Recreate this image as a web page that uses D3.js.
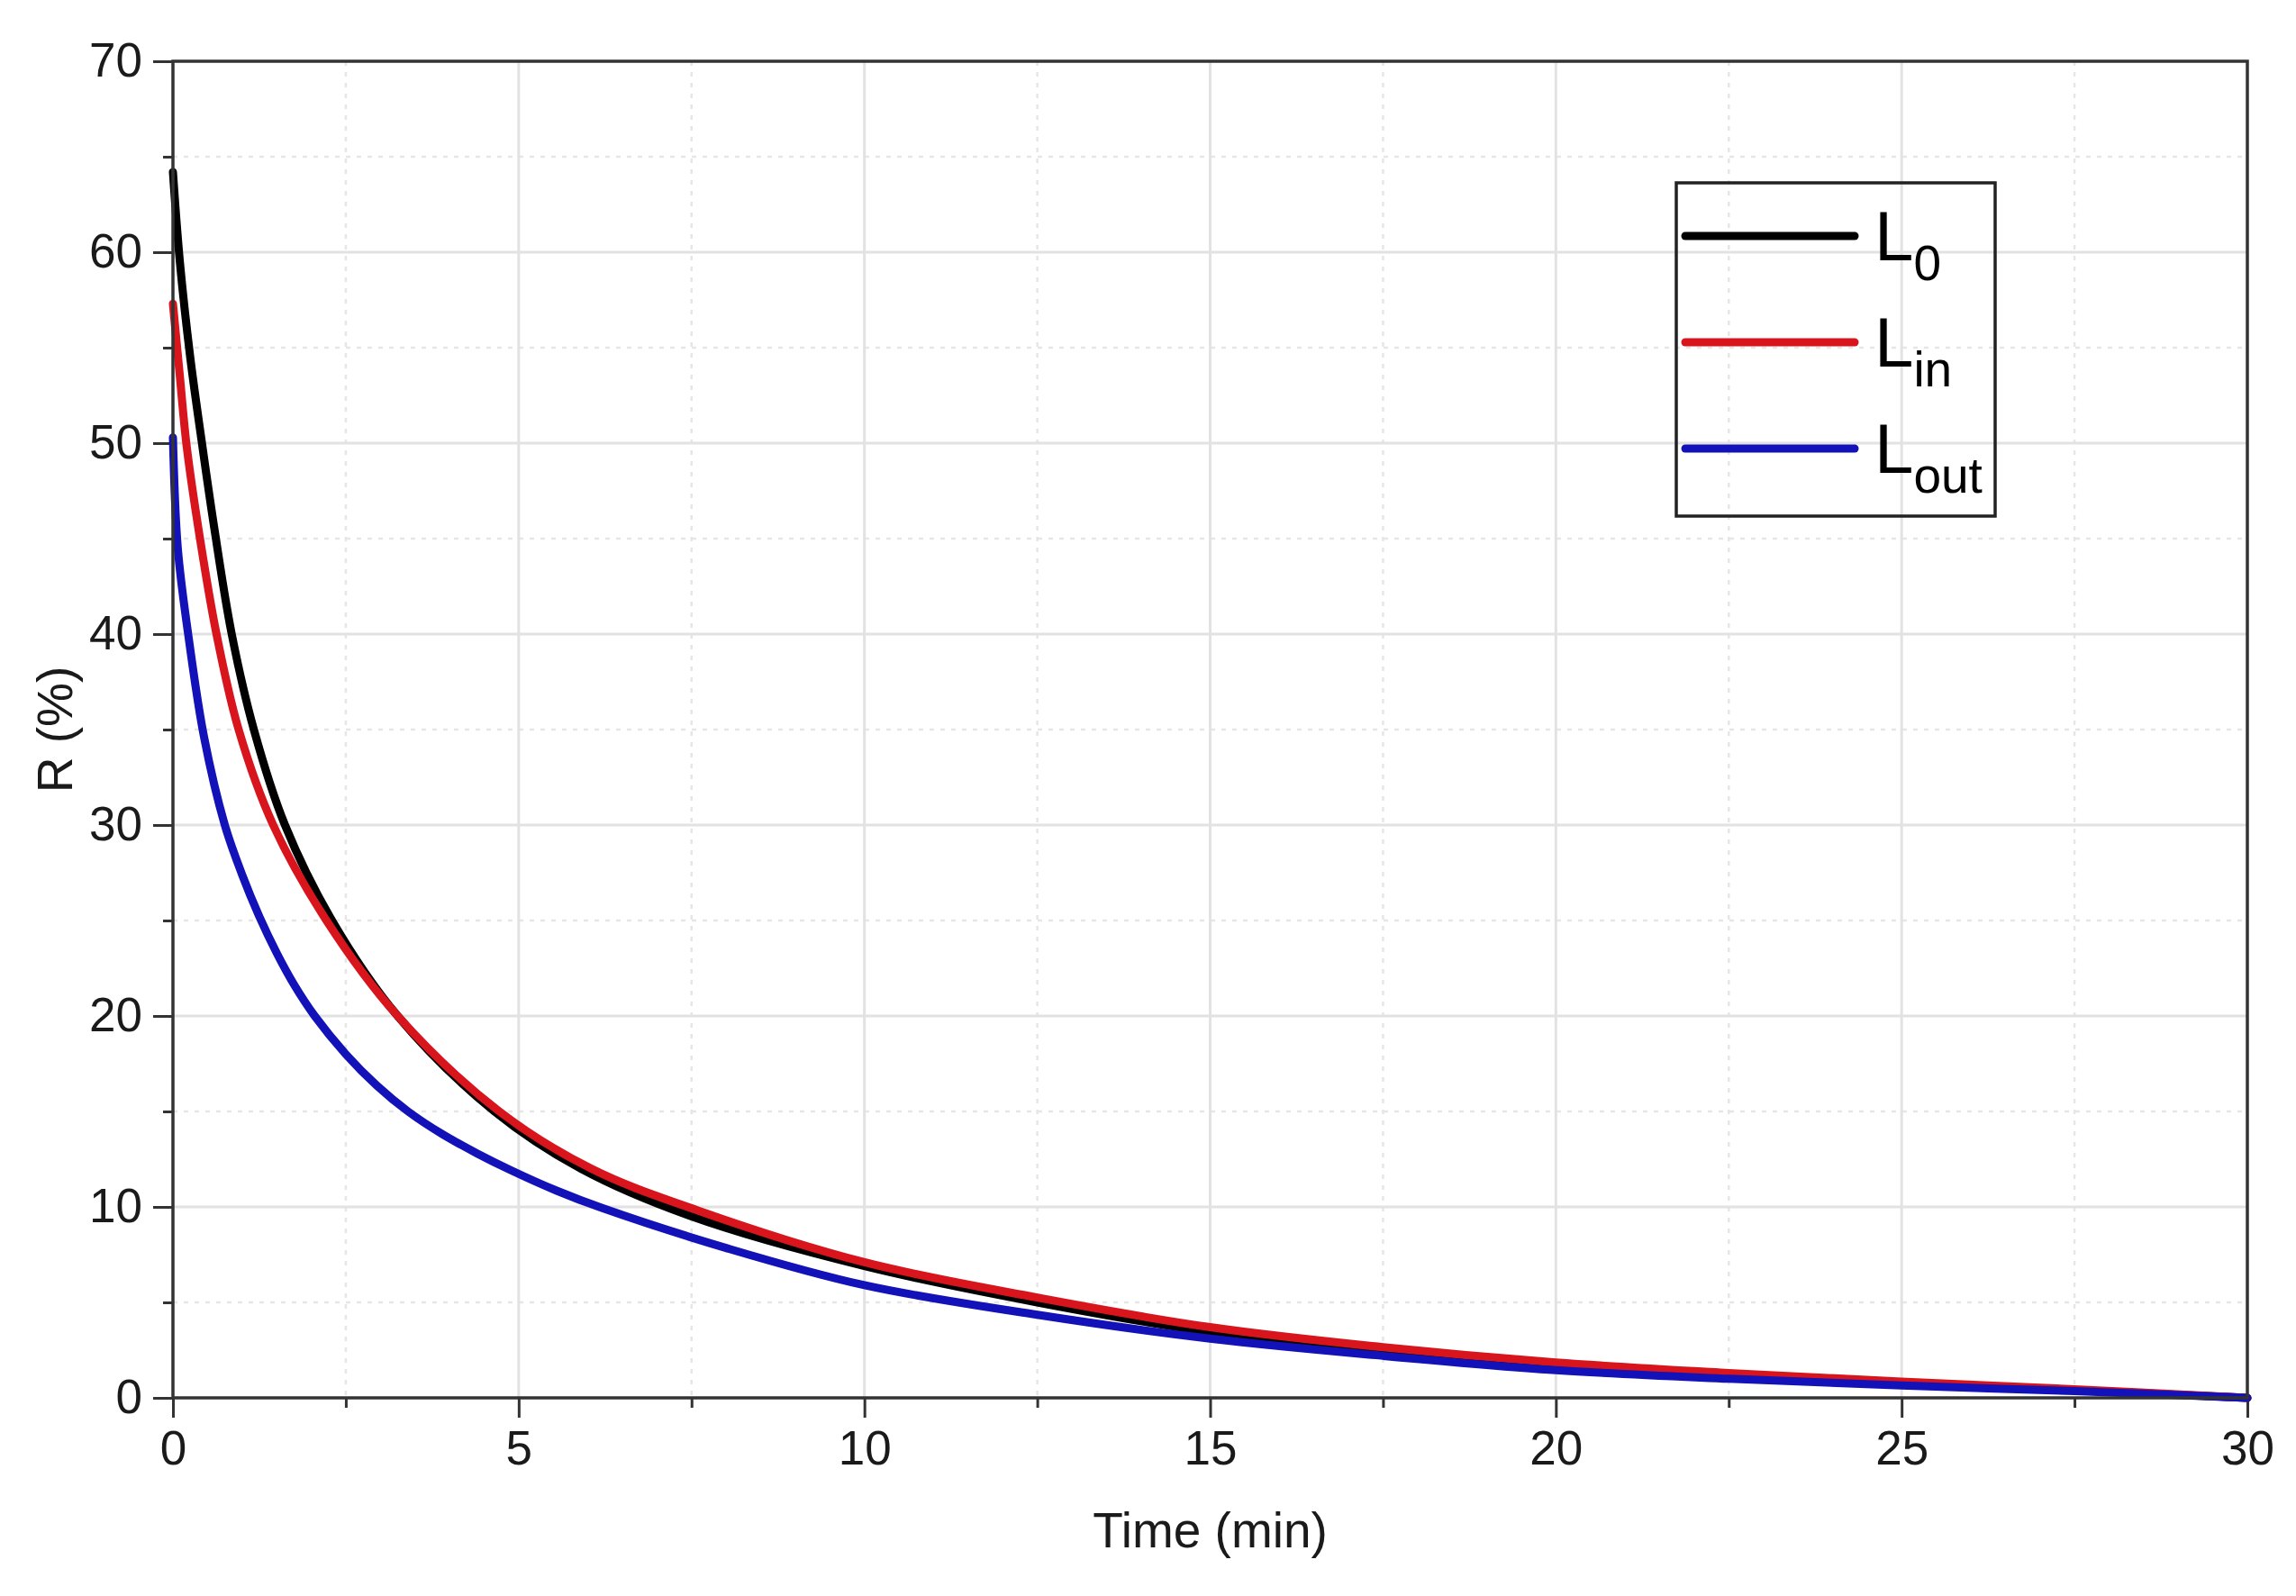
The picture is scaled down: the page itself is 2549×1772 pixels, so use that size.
<!DOCTYPE html>
<html lang="en">
<head>
<meta charset="UTF-8">
<title>R vs Time</title>
<style>
  body { margin: 0; background: #fff; }
  svg { display: block; font-family: "Liberation Sans", Arial, sans-serif; }
  .grid-major line { stroke: #e2e2e2; stroke-width: 3px; }
  .grid-minor line { stroke: #e6e6e6; stroke-width: 2.5px; stroke-dasharray: 5 7; }
  .axis path { display: none; }
  .axis line { stroke: #333; stroke-width: 3px; }
  .axis text { font-size: 53px; fill: #1a1a1a; font-family: "Liberation Sans", Arial, sans-serif; }
  .frame { fill: none; stroke: #333; stroke-width: 3.5px; }
  .curve { fill: none; stroke-width: 9px; stroke-linejoin: round; stroke-linecap: round; }
  .title { font-size: 55px; fill: #1a1a1a; }
</style>
</head>
<body>
<script src="https://d3js.org/d3.v7.min.js"></script>
<script>
// values (time in min, R in %)
var l0Time = [0, 0.1, 0.25, 0.4, 0.6, 0.85, 1.17, 1.62, 2.3, 3.25, 4.65, 5.9, 7.5, 10, 12.5, 15, 17.5, 20, 22.5, 25, 27.5, 30];
var l0R    = [64.2, 59.5, 54.5, 50.5, 45.5, 40, 35, 30, 25, 20, 15, 12, 9.5, 6.9, 5.0, 3.45, 2.45, 1.65, 1.15, 0.75, 0.4, 0];

var linTime = [0, 0.1, 0.2, 0.4, 0.63, 0.95, 1.45, 2.22, 3.25, 4.72, 6.05, 7.6, 10, 12.5, 15, 17.5, 20, 22.5, 25, 27.5, 30];
var linR    = [57.3, 53.5, 49.8, 44.8, 40, 35, 30, 25, 20, 15, 12, 9.8, 7.1, 5.25, 3.7, 2.65, 1.85, 1.3, 0.85, 0.45, 0];

var loutTime = [0, 0.07, 0.22, 0.45, 0.75, 1.0, 1.25, 1.5, 1.75, 2.05, 2.5, 2.95, 3.4, 3.9, 4.4, 4.9, 5.55, 6.2, 8, 10, 12.5, 15, 17.5, 20, 22.5, 25, 27.5, 30];
var loutR    = [50.3, 44.5, 40, 34.6, 30, 27.4, 25.2, 23.3, 21.65, 20, 18.0, 16.35, 15, 13.8, 12.8, 11.9, 10.85, 9.95, 7.85, 5.9, 4.35, 3.1, 2.2, 1.45, 1.0, 0.65, 0.35, 0];

var seriesNames = ["0", "in", "out"];
var seriesColors = ["#000000", "#d8141c", "#1212b8"];

var xTicks = [0, 5, 10, 15, 20, 25, 30];
var xMinor = [2.5, 7.5, 12.5, 17.5, 22.5, 27.5];
var yTicks = [0, 10, 20, 30, 40, 50, 60, 70];
var yMinor = [5, 15, 25, 35, 45, 55, 65];

var W = 2549, H = 1772;
var margin = { top: 68, right: 54, bottom: 220, left: 192 };
var width = W - margin.left - margin.right,
    height = H - margin.top - margin.bottom;

var svg = d3.select("body").append("svg")
    .attr("width", W)
    .attr("height", H);

var g = svg.append("g")
    .attr("transform", "translate(" + margin.left + "," + margin.top + ")");

var x = d3.scaleLinear().domain([0, 30]).range([0, width]);
var y = d3.scaleLinear().domain([0, 70]).range([height, 0]);

// grid lines
g.append("g").attr("class", "grid-minor")
  .selectAll("line.v").data(xMinor).enter().append("line")
    .attr("x1", function(d) { return x(d); }).attr("x2", function(d) { return x(d); })
    .attr("y1", 0).attr("y2", height);
g.select(".grid-minor")
  .selectAll("line.h").data(yMinor).enter().append("line")
    .attr("y1", function(d) { return y(d); }).attr("y2", function(d) { return y(d); })
    .attr("x1", 0).attr("x2", width);

var majorX = xTicks.slice(1, -1), majorY = yTicks.slice(1, -1);
g.append("g").attr("class", "grid-major")
  .selectAll("line.v").data(majorX).enter().append("line")
    .attr("x1", function(d) { return x(d); }).attr("x2", function(d) { return x(d); })
    .attr("y1", 0).attr("y2", height);
g.select(".grid-major")
  .selectAll("line.h").data(majorY).enter().append("line")
    .attr("y1", function(d) { return y(d); }).attr("y2", function(d) { return y(d); })
    .attr("x1", 0).attr("x2", width);

// axes
g.append("g").attr("class", "axis")
  .attr("transform", "translate(0," + height + ")")
  .call(d3.axisBottom(x).tickValues(xTicks).tickSize(22).tickPadding(14).tickFormat(d3.format("d")));
g.append("g").attr("class", "axis")
  .attr("transform", "translate(0," + height + ")")
  .call(d3.axisBottom(x).tickValues(xMinor).tickSize(11).tickFormat(""));
g.append("g").attr("class", "axis")
  .call(d3.axisLeft(y).tickValues(yTicks).tickSize(22).tickPadding(12).tickFormat(d3.format("d")));
g.append("g").attr("class", "axis")
  .call(d3.axisLeft(y).tickValues(yMinor).tickSize(11).tickFormat(""));

// curves
var series = [
  { t: l0Time, r: l0R },
  { t: linTime, r: linR },
  { t: loutTime, r: loutR }
];

var line = d3.line()
    .x(function(d) { return x(d[0]); })
    .y(function(d) { return y(d[1]); })
    .curve(d3.curveCatmullRom.alpha(0.5));

series.forEach(function(s, i) {
  var pts = s.t.map(function(t, k) { return [t, s.r[k]]; });
  g.append("path")
    .attr("class", "curve")
    .attr("d", line(pts))
    .attr("stroke", seriesColors[i]);
});

// frame
g.append("rect").attr("class", "frame")
  .attr("x", 0).attr("y", 0)
  .attr("width", width).attr("height", height);

// axis titles
svg.append("text").attr("class", "title")
  .attr("x", margin.left + width / 2)
  .attr("y", 1718)
  .attr("text-anchor", "middle")
  .text("Time (min)");

svg.append("text").attr("class", "title")
  .attr("transform", "translate(80," + (margin.top + height / 2) + ") rotate(-90)")
  .attr("text-anchor", "middle")
  .text("R (%)");

// legend
var legend = svg.append("g").attr("transform", "translate(1861,203)");
legend.append("rect")
  .attr("width", 354).attr("height", 370)
  .attr("fill", "none").attr("stroke", "#222").attr("stroke-width", 3.5);

seriesNames.forEach(function(name, i) {
  var ly = 59 + i * 118;
  legend.append("line")
    .attr("x1", 10).attr("x2", 198)
    .attr("y1", ly).attr("y2", ly)
    .attr("stroke", seriesColors[i])
    .attr("stroke-width", 9)
    .attr("stroke-linecap", "round");
  var txt = legend.append("text")
    .attr("x", 220).attr("y", ly + 27)
    .attr("font-size", 78).attr("fill", "#000");
  txt.append("tspan").text("L");
  txt.append("tspan").attr("dy", 22).attr("font-size", 55).text(name);
});
</script>
</body>
</html>
